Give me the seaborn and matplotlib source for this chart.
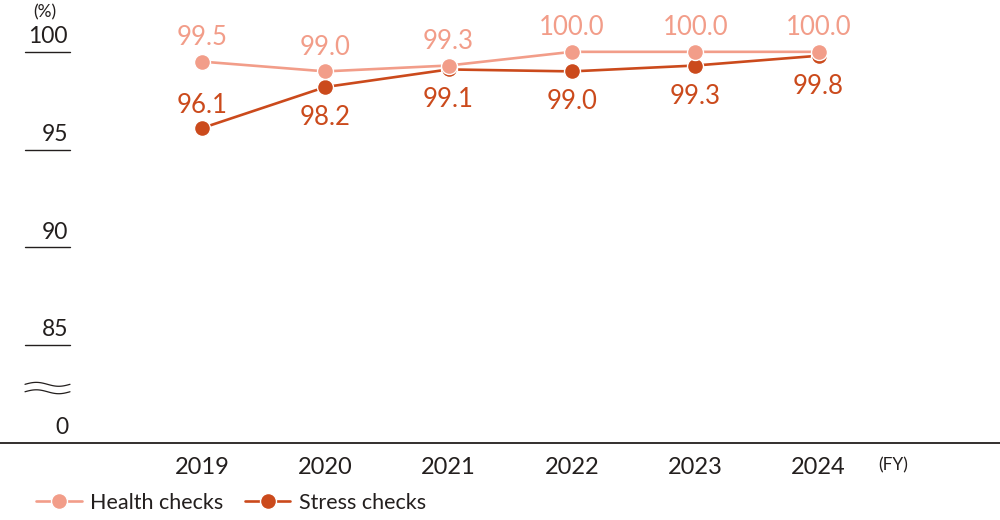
import matplotlib
matplotlib.use("Agg")
import matplotlib.pyplot as plt
import matplotlib.transforms as mtransforms
from matplotlib.lines import Line2D
import numpy as np
import pandas as pd
import seaborn as sns

# data
years = [2019, 2020, 2021, 2022, 2023, 2024]
health_checks = [99.5, 99.0, 99.3, 100.0, 100.0, 100.0]
stress_checks = [96.1, 98.2, 99.1, 99.0, 99.3, 99.8]
ytick_values = [80, 85, 90, 95, 100]
ytick_labels = ["0", "85", "90", "95", "100"]
# label placement for stress checks: above (+1) or below (-1)
stress_label_side = [1, -1, -1, -1, -1, -1]

HEALTH_COLOR = "#F29D89"
STRESS_COLOR = "#CB4A1C"
TEXT_COLOR = "#231F1E"

sns.set_style("white")
plt.rcParams["font.family"] = ["Lato", "DejaVu Sans"]

df = pd.DataFrame({"year": years, "health": health_checks, "stress": stress_checks})

fig = plt.figure(figsize=(10, 5.2), dpi=100)
ax = fig.add_axes([0, 77 / 520, 1, 443 / 520])

line_kw = dict(marker="o", markersize=11.5, markeredgecolor="white",
               markeredgewidth=1.0, linewidth=1.9)
sns.lineplot(data=df, x="year", y="stress", color=STRESS_COLOR, ax=ax, **line_kw)
sns.lineplot(data=df, x="year", y="health", color=HEALTH_COLOR, ax=ax, **line_kw)

px_per_year = 123.3
ax.set_xlim(years[0] - 202 / px_per_year, years[0] + 798 / px_per_year)
ax.set_ylim(80, 102.65)

# data labels
for x, v in zip(years, health_checks):
    ax.annotate(f"{v:.1f}", (x, v), xytext=(0, 17.5), textcoords="offset points",
                ha="center", va="center", fontsize=18.5, color=HEALTH_COLOR)
for x, v, side in zip(years, stress_checks, stress_label_side):
    off = 16 if side > 0 else -22
    ax.annotate(f"{v:.1f}", (x, v), xytext=(0, off), textcoords="offset points",
                ha="center", va="center", fontsize=18.5, color=STRESS_COLOR)

# y axis: short lines with labels sitting above them
trans = mtransforms.blended_transform_factory(ax.transAxes, ax.transData)
for v, lab in zip(ytick_values, ytick_labels):
    if v != ytick_values[0]:
        ax.axhline(v, xmin=0.025, xmax=0.070, color=TEXT_COLOR, lw=1.0)
    ax.text(0.068, v + 0.25, lab, transform=trans, ha="right", va="bottom",
            fontsize=16.5, color=TEXT_COLOR)
ax.text(0.045, 102.0, "(%)", transform=trans, ha="center", va="center",
        fontsize=12.5, color=TEXT_COLOR)

# axis break mark
wx = np.linspace(0.025, 0.070, 60)
wave = 0.1 * np.sin((wx - 0.025) / 0.045 * 2 * np.pi)
for base in (83.0, 82.62):
    ax.plot(wx, base + wave, transform=trans, color=TEXT_COLOR, lw=0.9)

ax.set_yticks([])
ax.set_xticks(years)
ax.set_xticklabels([str(y) for y in years], fontsize=17, color=TEXT_COLOR)
ax.tick_params(axis="x", length=0, pad=10)
ax.set_xlabel("")
ax.set_ylabel("")
ax.text(893, 78.85, "(FY)", transform=mtransforms.blended_transform_factory(
    mtransforms.IdentityTransform(), ax.transData), ha="center", va="center",
    fontsize=12.5, color=TEXT_COLOR)
for side in ["top", "right", "left"]:
    ax.spines[side].set_visible(False)
ax.spines["bottom"].set_color(TEXT_COLOR)
ax.spines["bottom"].set_linewidth(1.3)

handles = [
    Line2D([], [], color=HEALTH_COLOR, label="Health checks", **line_kw),
    Line2D([], [], color=STRESS_COLOR, label="Stress checks", **line_kw),
]
fig.legend(handles=handles, loc="center left", bbox_to_anchor=(0.017, 0.033),
           ncol=2, frameon=False, fontsize=15.5, handlelength=2.1,
           handletextpad=0.4, columnspacing=1.0, labelcolor=TEXT_COLOR)

fig.savefig("out.png", dpi=100)
